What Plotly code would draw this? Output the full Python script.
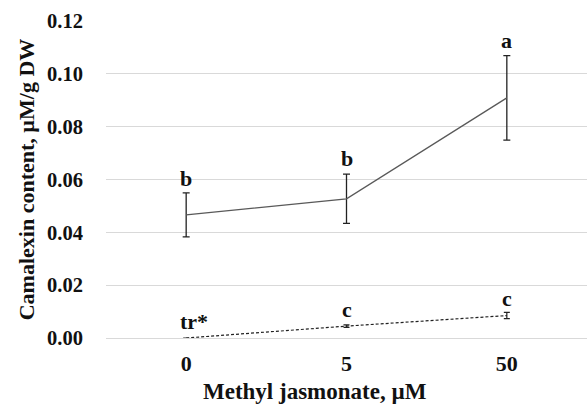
import plotly.graph_objects as go

categories = ["0", "5", "50"]
mean_a = [0.0466, 0.0527, 0.0909]
err_a = [0.0083, 0.0093, 0.0160]
mean_b = [0.0, 0.0045, 0.0085]
err_b = [0.0, 0.0005, 0.0012]
labels_a = ["b", "b", "a"]
labels_a_y = [0.0605, 0.0680, 0.1125]
labels_b = ["tr*", "c", "c"]
labels_b_y = [0.0062, 0.0107, 0.0150]
y_ticks = [0, 0.02, 0.04, 0.06, 0.08, 0.10, 0.12]

font_family = "Liberation Serif"
fs = 22

fig = go.Figure()
fig.add_trace(go.Scatter(
    x=categories, y=mean_a, mode="lines",
    line=dict(color="#595959", width=1.3),
    error_y=dict(type="data", array=err_a, color="#222222", thickness=1.3, width=3.5),
    showlegend=False,
))
fig.add_trace(go.Scatter(
    x=categories, y=mean_b, mode="lines",
    line=dict(color="#222222", width=1.2, dash="3px,2px"),
    error_y=dict(type="data", array=err_b, color="#222222", thickness=1.2, width=3),
    showlegend=False,
))
for i, (t, y) in enumerate(zip(labels_a, labels_a_y)):
    fig.add_annotation(x=i, y=y, text=f"<b>{t}</b>", showarrow=False,
                       font=dict(family=font_family, size=fs, color="#111111"))
for i, (t, y) in enumerate(zip(labels_b, labels_b_y)):
    fig.add_annotation(x=i, y=y, text=f"<b>{t}</b>", showarrow=False,
                       xanchor="left" if i == 0 else "center",
                       xshift=-8 if i == 0 else 0,
                       font=dict(family=font_family, size=fs, color="#111111"))

fig.add_annotation(xref="paper", yref="paper", x=0.434, y=-0.17,
                   text="<b>Methyl jasmonate, µM</b>", showarrow=False,
                   xanchor="center", yanchor="middle",
                   font=dict(family=font_family, size=23, color="#111111"))

fig.update_layout(
    width=587, height=406,
    margin=dict(l=106, r=0, t=21, b=68),
    paper_bgcolor="white", plot_bgcolor="white",
    font=dict(family=font_family, color="#111111"),
    xaxis=dict(
        type="category", range=[-0.5, 2.5],
        showgrid=False, showline=False, zeroline=False,
        ticks="outside", ticklen=6, tickcolor="rgba(0,0,0,0)",
        tickfont=dict(family=font_family, size=22, color="#111111"),
        tickvals=categories, ticktext=[f"<b>{c}</b>" for c in categories],
    ),
    yaxis=dict(
        range=[0, 0.12],
        showgrid=True, gridcolor="#d9d9d9", gridwidth=1,
        zeroline=True, zerolinecolor="#d9d9d9", zerolinewidth=1,
        showline=False,
        ticks="outside", ticklen=18, tickcolor="rgba(0,0,0,0)",
        tickfont=dict(family=font_family, size=20.5, color="#111111"),
        tickvals=y_ticks,
        ticktext=[f"<b>{v:.2f}</b>" for v in y_ticks],
        title=dict(text="<b>Camalexin content, µM/g DW</b>", standoff=6,
                   font=dict(family=font_family, size=22, color="#111111")),
    ),
)

fig.write_html("out.html")
